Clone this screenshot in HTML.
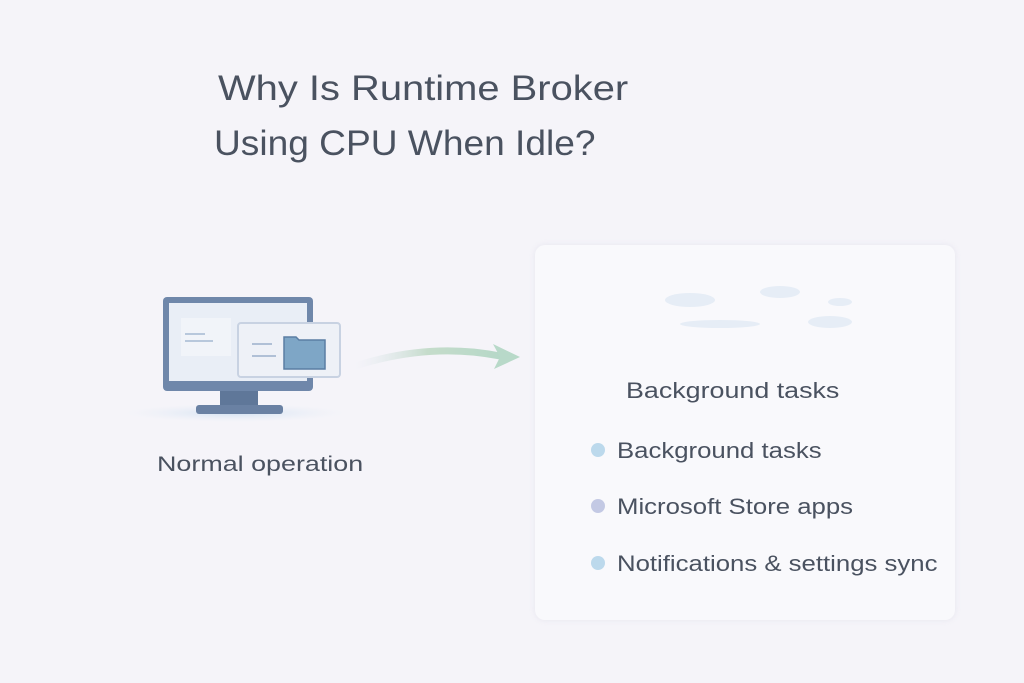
<!DOCTYPE html>
<html><head><style>
html,body{margin:0;padding:0;}
body{width:1024px;height:683px;background:#f5f4f9;position:relative;overflow:hidden;font-family:"Liberation Sans",sans-serif;color:#4a5260;}
.t{position:absolute;white-space:nowrap;transform-origin:0 50%;}
</style></head><body>
<div class="t" style="left:218px;top:69px;font-size:35px;transform:scaleX(1.14);">Why Is Runtime Broker</div>
<div class="t" style="left:214px;top:124px;font-size:35px;transform:scaleX(1.06);">Using CPU When Idle?</div>
<div style="position:absolute;left:535px;top:245px;width:420px;height:375px;background:#f9f9fc;border-radius:10px;box-shadow:0 0 6px rgba(200,200,220,0.3);"></div>
<svg width="1024" height="683" style="position:absolute;left:0;top:0">
<defs>
<linearGradient id="ar" x1="0" x2="1"><stop offset="0" stop-color="#dfe6f0" stop-opacity="0"/><stop offset="0.5" stop-color="#c5dccb"/><stop offset="1" stop-color="#b6d8c8"/></linearGradient>
<radialGradient id="sh"><stop offset="0" stop-color="#d3e2f2"/><stop offset="1" stop-color="#e8eef7" stop-opacity="0"/></radialGradient>
</defs>
<ellipse cx="235" cy="413" rx="110" ry="9" fill="url(#sh)"/>
<rect x="163" y="297" width="150" height="94" rx="4" fill="#6f87aa"/>
<rect x="169" y="303" width="138" height="78" fill="#e9eef6"/>
<rect x="181" y="318" width="50" height="38" fill="#f1f4f9"/>
<rect x="185" y="333" width="20" height="2" fill="#b8c8dc"/>
<rect x="185" y="340" width="28" height="2" fill="#b8c8dc"/>
<rect x="220" y="391" width="38" height="14" fill="#5f7799"/>
<rect x="196" y="405" width="87" height="9" rx="3" fill="#6a81a3"/>
<rect x="238" y="323" width="102" height="54" rx="3" fill="#eef1f7" stroke="#c8d2e2" stroke-width="2"/>
<rect x="252" y="343" width="20" height="2" fill="#b0c0d6"/>
<rect x="252" y="355" width="24" height="2" fill="#b0c0d6"/>
<path d="M284 337 h12 l3 3 h26 v29 h-41z" fill="#7ea6c6" stroke="#5a7ea4" stroke-width="1.5"/>
<path d="M355 366 Q430 342 500 356" stroke="url(#ar)" stroke-width="7" fill="none" stroke-linecap="round"/>
<path d="M493 344 L520 357 L494 369 L500 357 Z" fill="#b8d9c9"/>
<g fill="#e6edf6"><ellipse cx="690" cy="300" rx="25" ry="7"/><ellipse cx="780" cy="292" rx="20" ry="6"/><ellipse cx="830" cy="322" rx="22" ry="6"/><ellipse cx="720" cy="324" rx="40" ry="4"/><ellipse cx="840" cy="302" rx="12" ry="4"/></g>
<circle cx="598" cy="450" r="7" fill="#bcd9ec"/>
<circle cx="598" cy="506" r="7" fill="#c3c9e4"/>
<circle cx="598" cy="563" r="7" fill="#bcd9ec"/>
</svg>
<div class="t" style="left:157px;top:453px;font-size:21px;transform:scaleX(1.28);">Normal operation</div>
<div class="t" style="left:626px;top:378px;font-size:22px;transform:scaleX(1.22);">Background tasks</div>
<div class="t" style="left:617px;top:438px;font-size:22px;transform:scaleX(1.17);">Background tasks</div>
<div class="t" style="left:617px;top:494px;font-size:22px;transform:scaleX(1.17);">Microsoft Store apps</div>
<div class="t" style="left:617px;top:551px;font-size:22px;transform:scaleX(1.17);">Notifications &amp; settings sync</div>
</body></html>
